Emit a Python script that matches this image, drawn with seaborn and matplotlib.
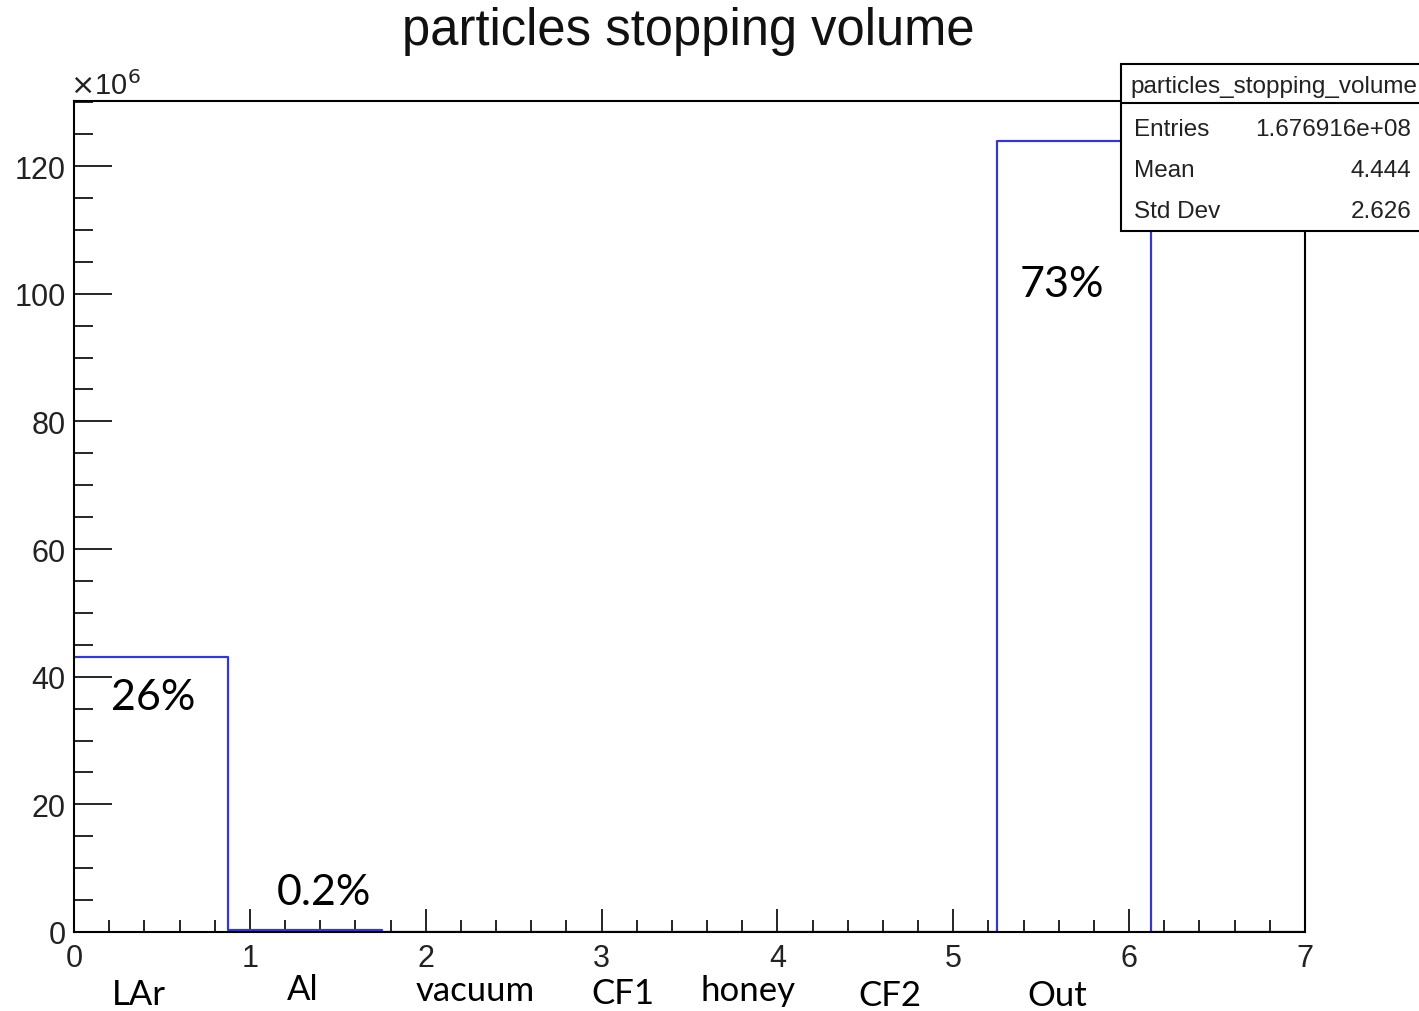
import matplotlib
matplotlib.use("Agg")
import matplotlib.pyplot as plt
import seaborn as sns
from matplotlib.patches import Rectangle
from matplotlib.ticker import MultipleLocator

# histogram content (8 bins from 0 to 7), counts in units of 1e6
bin_centers = [0.4375, 1.3125, 2.1875, 3.0625, 3.9375, 4.8125, 5.6875, 6.5625]
counts_m = [43.1, 0.35, 0, 0, 0, 0, 123.9, 0]

volumes = ["LAr", "Al", "vacuum", "CF1", "honey", "CF2", "Out"]
volume_x = [0.37, 1.30, 2.28, 3.12, 3.83, 4.64, 5.59]
volume_y = [-0.075, -0.069, -0.070, -0.073, -0.070, -0.076, -0.076]

pct_labels = ["26%", "0.2%", "73%"]
pct_x = [0.45, 1.42, 5.62]
pct_y = [36.8, 6.3, 101.5]

stats_names = ["Entries", "Mean", "Std Dev"]
stats_values = ["1.676916e+08", "4.444", "2.626"]

sns.set_style("white")
plt.rcParams["font.family"] = ["Liberation Sans", "DejaVu Sans"]

fig = plt.figure(figsize=(14.19, 10.12), dpi=100)
ax = fig.add_axes([74/1419, 79/1012, 1231/1419, 831/1012])

sns.histplot(x=bin_centers, weights=counts_m, bins=8, binrange=(0, 7),
             element="step", fill=False, color="#3737c8", linewidth=1.6, ax=ax)

ax.set_xlim(0, 7)
ax.set_ylim(0, 130.2)
ax.set_xlabel("")
ax.set_ylabel("")
for s in ax.spines.values():
    s.set_color("black")
    s.set_linewidth(1.5)

ax.xaxis.set_major_locator(MultipleLocator(1))
ax.xaxis.set_minor_locator(MultipleLocator(0.2))
ax.yaxis.set_major_locator(MultipleLocator(20))
ax.yaxis.set_minor_locator(MultipleLocator(5))
ax.tick_params(axis="x", which="major", direction="in", length=16.5, width=1.4,
               labelsize=22, pad=8, bottom=True, top=False)
ax.tick_params(axis="x", which="minor", direction="in", length=8.5, width=1.4,
               bottom=True, top=False)
ax.tick_params(axis="y", which="major", direction="in", length=27, width=1.4,
               labelsize=22, pad=6, left=True, right=False)
ax.tick_params(axis="y", which="minor", direction="in", length=14, width=1.4,
               left=True, right=False)
for lab in ax.get_xticklabels() + ax.get_yticklabels():
    lab.set_color("#222222")

fig.text(688/1419, 1 - 31/1012, "particles stopping volume", ha="center",
         va="center", fontsize=36.5, color="#111111")
fig.text(70/1419, 1 - 86/1012, r"$\times$10$^6$", ha="left", va="center",
         fontsize=21, color="#222222")

# volume names and percentages
for name, x, y in zip(volumes, volume_x, volume_y):
    ax.text(x, y, name, transform=ax.get_xaxis_transform(), ha="center",
            va="center", fontsize=25, color="black", family=["Lato", "DejaVu Sans"])
for t, x, y in zip(pct_labels, pct_x, pct_y):
    ax.text(x, y, t, ha="center", va="center", fontsize=31, color="black",
            family=["Lato", "DejaVu Sans"])

# stats box
W, H = 1419, 1012
box = Rectangle((1121/W, 1 - 232/H), 320/W, 167/H, transform=fig.transFigure,
                facecolor="white", edgecolor="black", linewidth=1.5,
                clip_on=False, zorder=5)
fig.patches.append(box)
fig.add_artist(plt.Line2D([1121/W, 1], [1 - 104/H, 1 - 104/H],
                          transform=fig.transFigure, color="black", lw=1.5, zorder=6))
fig.text(1130/W, 1 - 87/H, "particles_stopping_volume", ha="left", va="center",
         fontsize=17.5, color="#222222", zorder=7)
for i, (n, v) in enumerate(zip(stats_names, stats_values)):
    yy = 1 - (130 + 41 * i) / H
    fig.text(1134/W, yy, n, ha="left", va="center", fontsize=17.5,
             color="#222222", zorder=7)
    fig.text(1411/W, yy, v, ha="right", va="center", fontsize=17.5,
             color="#222222", zorder=7)

fig.savefig("out.png", dpi=100, facecolor="white")
